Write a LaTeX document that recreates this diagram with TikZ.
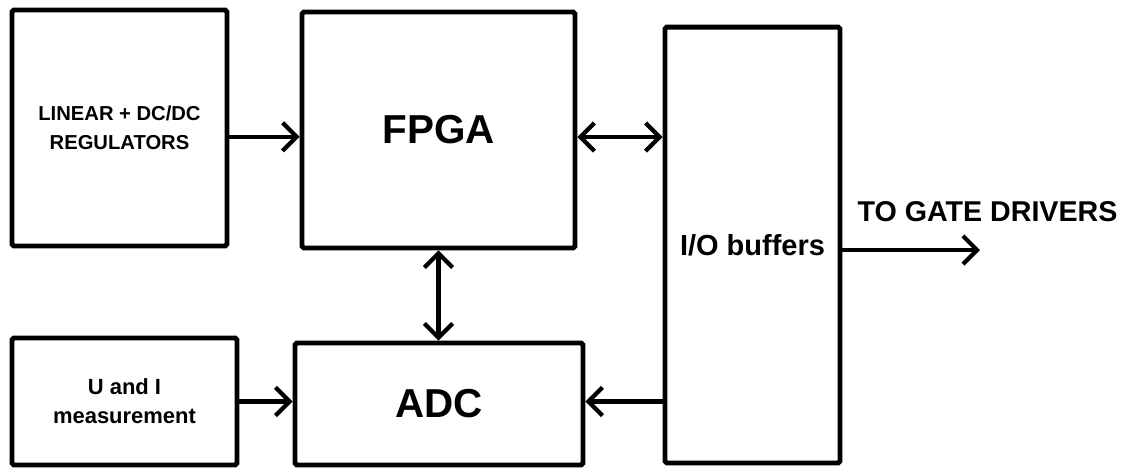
\documentclass[tikz,border=0pt]{standalone}
\usepackage{fontspec}
\setmainfont{Liberation Sans}
\usepackage{tikz}
\usetikzlibrary{arrows.meta,positioning,calc}
\tikzset{
block/.style={draw, line width=2.8pt, rounded corners=1pt, align=center, inner sep=0pt}, % the boxes
link/.style={line width=2.4pt}, % the connectors
>={Straight Barb[length=8pt,width=16pt]}, % open arrow heads
}

\begin{document}
\begin{tikzpicture}[x=0.02cm,y=-0.02cm]
   \useasboundingbox (0,0) rectangle (1137,468);
   \node[block, minimum width=4.3cm, minimum height=4.72cm,
      font=\bfseries\fontsize{11.5}{16.5}\selectfont] (reg) at (119.5,128)
      {LINEAR + DC/DC\\REGULATORS};
   \node[block, minimum width=5.46cm, minimum height=4.72cm,
      font=\bfseries\fontsize{23}{27}\selectfont] (fpga) at (438.5,130) {FPGA};
   \node[block, minimum width=3.5cm, minimum height=8.72cm,
      font=\bfseries\fontsize{16.5}{20}\selectfont] (io) at (752.5,245) {I/O buffers};
   \node[block, minimum width=4.5cm, minimum height=2.54cm,
      font=\bfseries\fontsize{12.5}{16.5}\selectfont] (meas) at (124.5,401.5)
      {U and I\\measurement};
   \node[block, minimum width=5.76cm, minimum height=2.44cm,
      font=\bfseries\fontsize{23}{27}\selectfont] (adc) at (439,404) {ADC};
   \coordinate (gate) at (980,250);
   \node[font=\bfseries\fontsize{16.3}{20}\selectfont] (gatelbl) at (987.5,212) {TO GATE DRIVERS};
    \draw[link,->] ([yshift=-5pt]reg.east) -- ([yshift=-5pt]reg.east -| fpga.west);
    \draw[link,<->] ([yshift=-4pt]fpga.east) -- ([yshift=-4pt]fpga.east -| io.west);
    \draw[link,<->] (fpga.south) -- (fpga.south |- adc.north);
    \draw[link,->] (meas.east) -- (meas.east -| adc.west);
    \draw[link,->] (io.west |- meas.east) -- (meas.east -| adc.east);
    \draw[link,->] (io.east |- gate) -- (gate);
\end{tikzpicture}
\end{document}
